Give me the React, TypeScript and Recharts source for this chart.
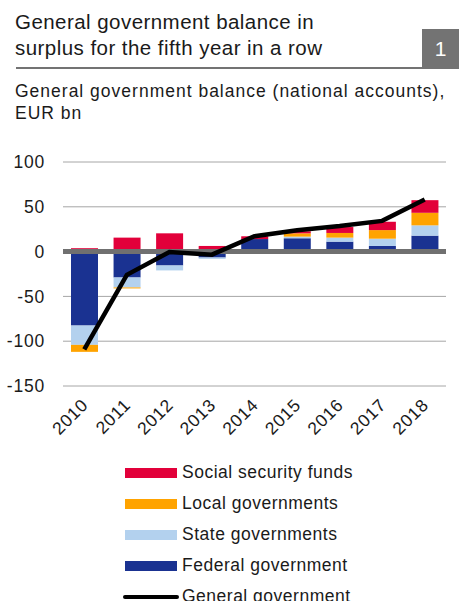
import { Bar, CartesianGrid, ComposedChart, Line, ReferenceLine, XAxis, YAxis } from "recharts";

const years = ["2010", "2011", "2012", "2013", "2014", "2015", "2016", "2017", "2018"];
const federal = [-82.6, -28.9, -15.5, -6.6, 14.0, 14.9, 11.1, 6.3, 17.8];
const state = [-21.5, -11.1, -5.5, -1.5, 0, 1.8, 4.5, 8.1, 11.5];
const local = [-7.8, -1.1, 0, 0, 0, 3.7, 5.2, 9.6, 14.0];
const socialSecurity = [3.8, 15.6, 20.4, 6.3, 3.1, 2.3, 6.6, 9.3, 14.1];
const general = [-109, -25.9, -0.5, -3.4, 17.2, 23.8, 28.5, 34.3, 58.2];
const yTicks = [100, 50, 0, -50, -100, -150];

const data = years.map((year, i) => ({
  year,
  federal: federal[i],
  state: state[i],
  local: local[i],
  social: socialSecurity[i],
  general: general[i],
}));

const FONT = "'Liberation Sans', Arial, sans-serif";
const TEXT = "#1a1a1a";

const legendItems = [
  { label: "Social security funds", color: "#e2003a", kind: "bar" },
  { label: "Local governments", color: "#ffa300", kind: "bar" },
  { label: "State governments", color: "#b3d1ee", kind: "bar" },
  { label: "Federal government", color: "#1a3291", kind: "bar" },
  { label: "General government", color: "#000000", kind: "line" },
];

function YearTick({ x, y, payload }: any) {
  return (
    <g transform={`translate(${x},${y})`}>
      <text
        x={0}
        y={0}
        dy={12}
        dx={-5}
        textAnchor="end"
        transform="rotate(-45)"
        fontSize={17.5}
        letterSpacing={0.8}
        fontFamily={FONT}
        fill={TEXT}
      >
        {payload.value}
      </text>
    </g>
  );
}

export default function App() {
  return (
    <div
      style={{
        position: "absolute",
        left: 0,
        top: 0,
        width: 459,
        height: 601,
        overflow: "hidden",
        background: "#fff",
        fontFamily: FONT,
        color: TEXT,
      }}
    >
      <div
        style={{
          position: "absolute",
          left: 15,
          top: 9,
          fontSize: 20.5,
          lineHeight: "26px",
          letterSpacing: 0.45,
        }}
      >
        General government balance in
        <br />
        surplus for the fifth year in a row
      </div>
      <div style={{ position: "absolute", left: 16, top: 67, width: 406, height: 2, background: "#737373" }} />
      <div
        style={{
          position: "absolute",
          left: 422,
          top: 29,
          width: 37,
          height: 40,
          background: "#737373",
          color: "#fff",
          fontSize: 21,
          lineHeight: "40px",
          textAlign: "center",
        }}
      >
        1
      </div>
      <div
        style={{
          position: "absolute",
          left: 15,
          top: 80,
          fontSize: 17.5,
          lineHeight: "22px",
          letterSpacing: 1,
        }}
      >
        General government balance (national accounts),
        <br />
        EUR bn
      </div>

      <div style={{ position: "absolute", left: 0, top: 140 }}>
        <ComposedChart
          width={459}
          height={310}
          data={data}
          stackOffset="sign"
          barSize={27}
          margin={{ top: 22, right: 13, bottom: 0, left: 0 }}
        >
          <CartesianGrid stroke="#a6a6a6" vertical={false} />
          <XAxis
            dataKey="year"
            axisLine={false}
            tickLine={false}
            height={64}
            interval={0}
            tick={<YearTick />}
          />
          <YAxis
            domain={[-150, 100]}
            ticks={yTicks}
            axisLine={false}
            tickLine={false}
            width={63}
            tickMargin={12}
            tick={{ fontSize: 17.5, fill: TEXT, fontFamily: FONT, letterSpacing: 0.8 }}
          />
          <Bar dataKey="federal" stackId="a" fill="#1a3291" isAnimationActive={false} />
          <Bar dataKey="state" stackId="a" fill="#b3d1ee" isAnimationActive={false} />
          <Bar dataKey="local" stackId="a" fill="#ffa300" isAnimationActive={false} />
          <Bar dataKey="social" stackId="a" fill="#e2003a" isAnimationActive={false} />
          <ReferenceLine y={0} stroke="#707070" strokeWidth={5} />
          <Line
            dataKey="general"
            type="linear"
            stroke="#000"
            strokeWidth={4.5}
            dot={false}
            isAnimationActive={false}
          />
        </ComposedChart>
      </div>

      <div style={{ position: "absolute", left: 123, top: 457 }}>
        {legendItems.map((item) => (
          <div key={item.label} style={{ display: "flex", alignItems: "center", height: 31 }}>
            <div style={{ width: 56, display: "flex", alignItems: "center", justifyContent: "flex-start" }}>
              {item.kind === "bar" ? (
                <div style={{ marginLeft: 2, width: 52, height: 10, background: item.color }} />
              ) : (
                <div style={{ width: 56, height: 4, borderRadius: 2, background: item.color }} />
              )}
            </div>
            <span style={{ marginLeft: 3, fontSize: 17.5, letterSpacing: 0.5 }}>{item.label}</span>
          </div>
        ))}
      </div>
    </div>
  );
}
